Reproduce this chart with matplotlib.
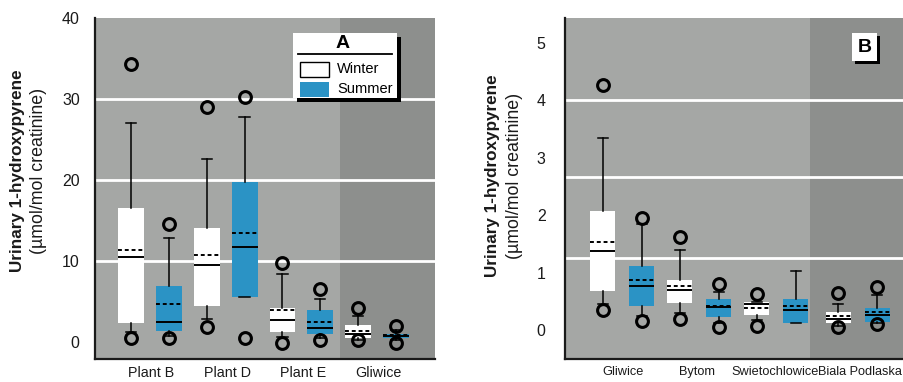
import numpy as np
import matplotlib
matplotlib.use("Agg")
import matplotlib.pyplot as plt
from matplotlib.patches import Rectangle
from matplotlib.lines import Line2D

plt.rcParams['font.family'] = ['Liberation Sans', 'DejaVu Sans']

# ---- data ----
# each box: [whisker low, q1, median, mean, q3, whisker high]
a_groups = ['Plant B', 'Plant D', 'Plant E', 'Gliwice']
a_winter = [[1.2, 2.3, 10.5, 11.4, 16.5, 27.0],
            [2.8, 4.4, 9.5, 10.7, 14.1, 22.6],
            [0.6, 1.2, 2.7, 4.0, 4.2, 8.4],
            [0.3, 0.5, 1.0, 1.4, 2.1, 3.2]]
a_summer = [[0.8, 1.4, 2.5, 4.7, 6.9, 12.8],
            [5.6, 5.6, 11.7, 13.5, 19.8, 27.8],
            [0.5, 1.0, 1.7, 2.5, 3.9, 5.3],
            [0.3, 0.5, 0.7, 0.9, 1.0, 1.5]]
a_winter_out = [[0.5, 34.3], [1.9, 29.0], [-0.1, 9.8], [0.2, 4.2]]
a_summer_out = [[0.5, 14.6], [0.5, 30.2], [0.3, 6.5], [-0.1, 2.0]]

b_groups = ['Gliwice', 'Bytom', 'Swietochlowice', 'Biala Podlaska']
b_winter = [[0.45, 0.68, 1.37, 1.53, 2.07, 3.34],
            [0.30, 0.47, 0.70, 0.77, 0.87, 1.39],
            [0.17, 0.26, 0.45, 0.38, 0.49, 0.49],
            [0.08, 0.12, 0.19, 0.24, 0.31, 0.45]]
b_summer = [[0.25, 0.43, 0.77, 0.87, 1.11, 1.85],
            [0.12, 0.23, 0.40, 0.43, 0.55, 0.66],
            [0.12, 0.12, 0.35, 0.43, 0.54, 1.03],
            [0.12, 0.14, 0.26, 0.31, 0.38, 0.61]]
b_winter_out = [[0.36, 4.27], [0.19, 1.63], [0.07, 0.63], [0.05, 0.64]]
b_summer_out = [[0.16, 1.95], [0.05, 0.81], [], [0.10, 0.75]]

a_ticks = [0, 10, 20, 30, 40]
b_ticks = [0, 1, 2, 3, 4, 5]

# ---- style ----
LIGHT = '#a5a7a5'
DARK = '#8d8f8d'
BLUE = '#2b93c5'
INK = '#1a1a1a'
W, H = 904, 382


def fx(px):
    return px / W


def fy(py):
    return 1 - py / H


def stats(rows, outs):
    res = []
    for r, o in zip(rows, outs):
        res.append(dict(whislo=r[0], q1=r[1], med=r[2], mean=r[3], q3=r[4],
                        whishi=r[5], fliers=o))
    return res


def draw_boxes(ax, rows, outs, pos, color, width):
    ax.bxp(stats(rows, outs), positions=pos, widths=width, patch_artist=True,
           showmeans=True, meanline=True, showcaps=True, capwidths=width * 0.4,
           boxprops=dict(facecolor=color, edgecolor='none', linewidth=0),
           medianprops=dict(color='black', linewidth=1.4),
           meanprops=dict(color='black', linestyle=(0, (2, 1.5)), linewidth=1.4),
           whiskerprops=dict(color='black', linewidth=1.1),
           capprops=dict(color='black', linewidth=1.1),
           flierprops=dict(marker='o', markersize=8.5, markerfacecolor='none',
                           markeredgecolor='black', markeredgewidth=2.2),
           manage_ticks=False, zorder=3)


def style_axes(ax):
    for s in ['top', 'right']:
        ax.spines[s].set_visible(False)
    for s in ['left', 'bottom']:
        ax.spines[s].set_color(INK)
        ax.spines[s].set_linewidth(1.6)
    ax.set_facecolor(LIGHT)
    ax.tick_params(length=0, colors=INK)


fig = plt.figure(figsize=(W / 100, H / 100), dpi=100)

# ---- panel A ----
axA = fig.add_axes([fx(95), fy(359), fx(435) - fx(95), fy(18) - fy(359)])
style_axes(axA)
xa = np.arange(len(a_groups))
axA.set_xlim(-0.727, 3.765)
axA.set_ylim(-2.1, 40.0)
axA.axvspan(2.51, 3.765, color=DARK, zorder=0, lw=0)
for g in [10, 20, 30]:
    axA.axhline(g, color='white', lw=2, zorder=1)
draw_boxes(axA, a_winter, a_winter_out, xa - 0.25, 'white', 0.34)
draw_boxes(axA, a_summer, a_summer_out, xa + 0.25, BLUE, 0.34)
axA.set_xticks(xa + 0.02)
axA.set_xticklabels(a_groups, fontsize=10.3)
axA.set_yticks(a_ticks)
axA.tick_params(axis='y', pad=11, labelsize=11.5)
axA.tick_params(axis='x', pad=5)

# ---- panel B ----
axB = fig.add_axes([fx(565), fy(359), 1 - fx(565), fy(18) - fy(359)])
style_axes(axB)
xb = np.array([0, 1, 2, 3.06])
axB.set_xlim(-0.747, 3.66)
axB.set_ylim(-0.5, 5.43)
axB.axvspan(2.435, 3.66, color=DARK, zorder=0, lw=0)
for g in [1.25, 2.66, 4.0]:
    axB.axhline(g, color='white', lw=2, zorder=1)
draw_boxes(axB, b_winter, b_winter_out, xb - 0.253, 'white', 0.325)
draw_boxes(axB, b_summer, b_summer_out, xb + 0.253, BLUE, 0.325)
axB.set_xticks([0.01, 0.97, 1.98, 3.09])
axB.set_xticklabels(b_groups, fontsize=9.2)
axB.set_yticks(b_ticks)
axB.tick_params(axis='y', pad=14, labelsize=11.5)
axB.tick_params(axis='x', pad=5)

# ---- y labels (two lines, bold + normal) ----
for xb1, xb2, yc in [(18, 39, 171), (493, 515, 176)]:
    fig.text(fx(xb1), fy(yc), 'Urinary 1-hydroxypyrene', rotation=90,
             ha='center', va='center', fontsize=12.3, fontweight='bold',
             color=INK)
    fig.text(fx(xb2), fy(yc), '(\u00b5mol/mol creatinine)', rotation=90,
             ha='center', va='center', fontsize=12.8, color=INK)

# ---- legend box for A ----
fig.patches.append(Rectangle((fx(297), fy(102)), fx(401) - fx(297), fy(37) - fy(102),
                             transform=fig.transFigure, facecolor='black',
                             edgecolor='none', zorder=5))
fig.patches.append(Rectangle((fx(293), fy(98)), fx(397) - fx(293), fy(33) - fy(98),
                             transform=fig.transFigure, facecolor='white',
                             edgecolor='none', zorder=6))
fig.text(fx(343), fy(44), 'A', ha='center', va='center', fontsize=14,
         fontweight='bold', zorder=7)
fig.lines.append(Line2D([fx(298), fx(392)], [fy(54), fy(54)],
                        transform=fig.transFigure, color='black', lw=1.3, zorder=7))
fig.patches.append(Rectangle((fx(300), fy(77)), fx(329) - fx(300), fy(62) - fy(77),
                             transform=fig.transFigure, facecolor='white',
                             edgecolor='black', lw=1, zorder=7))
fig.patches.append(Rectangle((fx(300), fy(97)), fx(329) - fx(300), fy(82) - fy(97),
                             transform=fig.transFigure, facecolor=BLUE,
                             edgecolor='none', zorder=7))
fig.text(fx(337), fy(69), 'Winter', ha='left', va='center', fontsize=10.5, zorder=7)
fig.text(fx(337), fy(89), 'Summer', ha='left', va='center', fontsize=10.5, zorder=7)

# ---- label box for B ----
fig.patches.append(Rectangle((fx(855), fy(64)), fx(880) - fx(855), fy(36) - fy(64),
                             transform=fig.transFigure, facecolor='black',
                             edgecolor='none', zorder=5))
fig.patches.append(Rectangle((fx(852), fy(61)), fx(877) - fx(852), fy(33) - fy(61),
                             transform=fig.transFigure, facecolor='white',
                             edgecolor='none', zorder=6))
fig.text(fx(864.5), fy(47), 'B', ha='center', va='center', fontsize=14,
         fontweight='bold', zorder=7)

fig.savefig('out.png', dpi=100)
